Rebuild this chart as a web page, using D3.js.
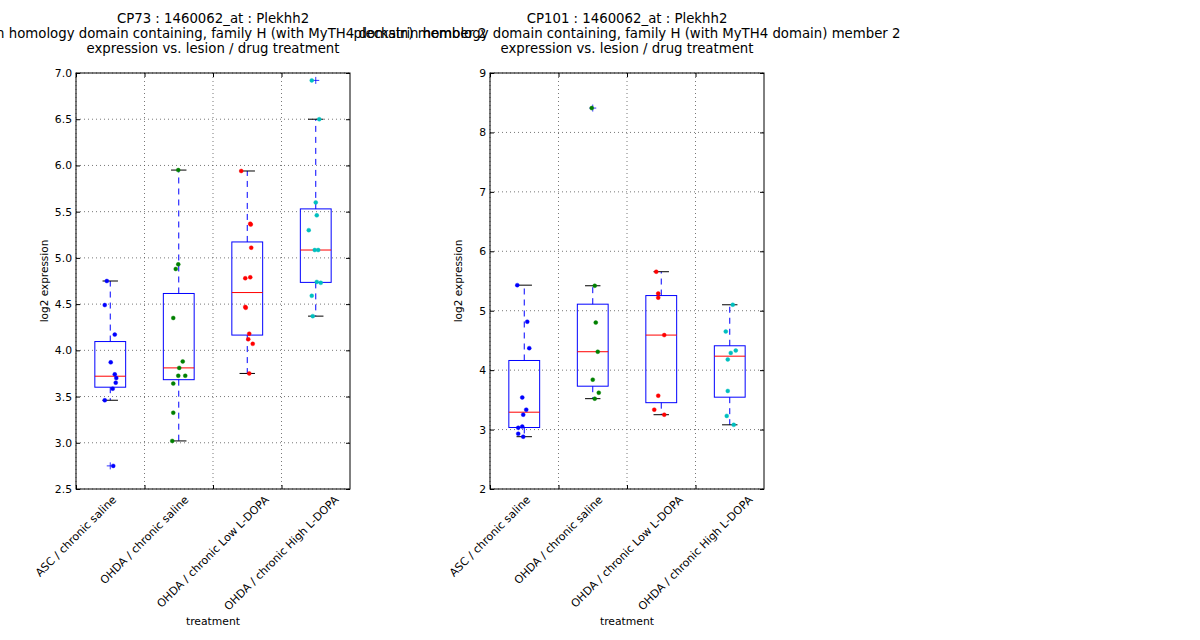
<!DOCTYPE html>
<html>
<head>
<meta charset="utf-8">
<script src="https://cdn.jsdelivr.net/npm/d3@7"></script>
<style>
  body { margin: 0; background: #fff; }
  svg { font-family: "DejaVu Sans", sans-serif; }
</style>
</head>
<body>
<div id="graph"></div>
<script>
const w = 1200;
const h = 640;

const categories = ["ASC / chronic saline", "OHDA / chronic saline", "OHDA / chronic Low L-DOPA", "OHDA / chronic High L-DOPA"];
const colors = ["#0000ff", "#008000", "#ff0000", "#00bfbf"];

// values, one list per group
const cp73Values = [
  [4.75, 4.49, 4.17, 3.87, 3.74, 3.7, 3.65, 3.585, 3.46, 2.75],
  [5.95, 4.93, 4.88, 4.35, 3.88, 3.81, 3.725, 3.725, 3.64, 3.325, 3.02],
  [5.94, 5.37, 5.36, 5.11, 4.79, 4.78, 4.47, 4.46, 4.18, 4.12, 4.07, 3.75],
  [6.92, 6.5, 5.6, 5.46, 5.3, 5.085, 5.085, 4.74, 4.73, 4.59, 4.37],
];
// horizontal jitter of each point, in category units
const cp73Jitter = [
  [-0.05, -0.08, 0.066, 0.007, 0.066, 0.088, 0.08, 0.036, -0.08, 0.044],
  [-0.007, -0.007, -0.044, -0.08, 0.058, 0.007, -0.007, 0.095, -0.08, -0.08, -0.095],
  [-0.088, 0.044, 0.051, 0.058, 0.044, -0.029, -0.029, -0.022, 0.029, 0.015, 0.08, 0.029],
  [-0.058, 0.051, 0, 0.015, -0.102, -0.015, 0.036, 0.015, 0.073, -0.058, -0.044],
];
const cp101Values = [
  [5.43, 4.815, 4.37, 3.54, 3.335, 3.25, 3.05, 3.03, 2.93, 2.88],
  [8.41, 5.42, 4.8, 4.31, 3.84, 3.62, 3.52],
  [5.656, 5.29, 5.22, 4.59, 3.57, 3.335, 3.25],
  [5.1, 4.65, 4.33, 4.29, 4.18, 3.65, 3.23, 3.08],
];
const cp101Jitter = [
  [-0.102, 0.044, 0.073, -0.029, 0.029, -0.015, -0.029, -0.088, -0.088, -0.015],
  [-0.015, 0.029, 0.044, 0.073, 0, 0.088, 0.029],
  [-0.073, -0.044, -0.044, 0.044, -0.044, -0.102, 0.044],
  [0.044, -0.058, 0.088, 0.015, -0.029, -0.029, -0.044, 0.058],
];
const cp73Ticks = [2.5, 3.0, 3.5, 4.0, 4.5, 5.0, 5.5, 6.0, 6.5, 7.0];
const cp101Ticks = [2, 3, 4, 5, 6, 7, 8, 9];
const geneName = "pleckstrin homology domain containing, family H (with MyTH4 domain) member 2";

const panels = [
  { id: "CP73", values: cp73Values, jitter: cp73Jitter, ticks: cp73Ticks, fmt: ".1f", left: 76 },
  { id: "CP101", values: cp101Values, jitter: cp101Jitter, ticks: cp101Ticks, fmt: "d", left: 490 },
];

const pw = 274;
const plotTop = 73;
const plotBottom = 489;
const boxW = 0.45;

const svg = d3.select("#graph").append("svg").attr("width", w).attr("height", h);
svg.append("rect").attr("width", w).attr("height", h).attr("fill", "#fff");

const stats = (vals) => {
  const s = vals.slice().sort(d3.ascending);
  const q1 = d3.quantile(s, 0.25);
  const med = d3.quantile(s, 0.5);
  const q3 = d3.quantile(s, 0.75);
  const iqr = q3 - q1;
  const inside = s.filter((v) => v >= q1 - 1.5 * iqr && v <= q3 + 1.5 * iqr);
  return {
    q1, med, q3,
    lo: d3.min(inside),
    hi: d3.max(inside),
    out: s.filter((v) => v < q1 - 1.5 * iqr || v > q3 + 1.5 * iqr),
  };
};

const drawPanel = (p) => {
  const x = d3.scaleLinear().domain([0.5, 4.5]).range([p.left, p.left + pw]);
  const y = d3.scaleLinear().domain(d3.extent(p.ticks)).range([plotBottom, plotTop]);
  const g = svg.append("g");
  const gridTicks = d3.range(categories.length).map((i) => i + 0.5);

  // grid
  g.append("g").selectAll("line").data(gridTicks).enter().append("line")
    .attr("x1", (d) => x(d)).attr("x2", (d) => x(d)).attr("y1", plotTop).attr("y2", plotBottom)
    .attr("stroke", "#555").attr("stroke-width", 0.8).attr("stroke-dasharray", "1,3");
  g.append("g").selectAll("line").data(p.ticks).enter().append("line")
    .attr("x1", p.left).attr("x2", p.left + pw).attr("y1", (d) => y(d)).attr("y2", (d) => y(d))
    .attr("stroke", "#555").attr("stroke-width", 0.8).attr("stroke-dasharray", "1,3");

  // axes with inward ticks
  g.append("g").attr("transform", `translate(${p.left},0)`)
    .call(d3.axisLeft(y).tickValues(p.ticks).tickFormat(d3.format(p.fmt)).tickSize(-4).tickPadding(4));
  g.append("g").attr("transform", `translate(${p.left + pw},0)`)
    .call(d3.axisRight(y).tickValues(p.ticks).tickFormat("").tickSize(-4));
  g.append("g").attr("transform", `translate(0,${plotBottom})`)
    .call(d3.axisBottom(x).tickValues(gridTicks).tickFormat("").tickSize(-4));
  g.append("g").attr("transform", `translate(0,${plotTop})`)
    .call(d3.axisTop(x).tickValues(gridTicks).tickFormat("").tickSize(-4));
  g.selectAll(".domain").remove();
  g.selectAll(".tick text").attr("font-size", 10.8).attr("font-family", "DejaVu Sans").attr("fill", "#000");
  g.selectAll(".tick line").attr("stroke", "#000");
  g.append("rect").attr("x", p.left).attr("y", plotTop).attr("width", pw).attr("height", plotBottom - plotTop)
    .attr("fill", "none").attr("stroke", "#000").attr("stroke-width", 1);

  // boxes
  p.values.forEach((vals, i) => {
    const c = i + 1;
    const s = stats(vals);
    const b = g.append("g");
    b.append("rect").attr("x", x(c - boxW / 2)).attr("y", y(s.q3))
      .attr("width", x(c + boxW / 2) - x(c - boxW / 2)).attr("height", y(s.q1) - y(s.q3))
      .attr("fill", "none").attr("stroke", "#0000ff").attr("stroke-width", 1);
    b.append("line").attr("x1", x(c - boxW / 2)).attr("x2", x(c + boxW / 2))
      .attr("y1", y(s.med)).attr("y2", y(s.med)).attr("stroke", "#ff0000").attr("stroke-width", 1);
    [[s.q3, s.hi], [s.q1, s.lo]].forEach(([a, e]) => {
      b.append("line").attr("x1", x(c)).attr("x2", x(c)).attr("y1", y(a)).attr("y2", y(e))
        .attr("stroke", "#0000ff").attr("stroke-width", 1).attr("stroke-dasharray", "6,5");
      b.append("line").attr("x1", x(c - boxW / 4)).attr("x2", x(c + boxW / 4))
        .attr("y1", y(e)).attr("y2", y(e)).attr("stroke", "#000").attr("stroke-width", 1);
    });
    s.out.forEach((v) => {
      b.append("path").attr("d", `M${x(c) - 3.5},${y(v)}h7M${x(c)},${y(v) - 3.5}v7`)
        .attr("stroke", "#0000ff").attr("stroke-width", 0.8);
    });
    g.append("g").selectAll("circle").data(vals).enter().append("circle")
      .attr("cx", (d, j) => x(c + p.jitter[i][j])).attr("cy", (d) => y(d)).attr("r", 2)
      .attr("fill", colors[i]).attr("stroke", colors[i]).attr("stroke-width", 0.4);
  });

  // x labels, rotated, centered on the ticks
  gridTicks.forEach((t, i) => {
    const lab = g.append("text").attr("font-size", 11).attr("text-anchor", "middle")
      .attr("dominant-baseline", "central").text(categories[i]);
    const len = lab.node().getComputedTextLength();
    const half = ((len + 11) * Math.SQRT1_2) / 2;
    lab.attr("transform", `translate(${x(t)},${plotBottom + 5 + half}) rotate(-45)`);
  });

  const cx = p.left + pw / 2;
  g.append("text").attr("x", cx).attr("y", 625).attr("text-anchor", "middle")
    .attr("font-size", 10.8).text("treatment");
  g.append("text").attr("transform", `translate(${p.left - 28},${(plotTop + plotBottom) / 2}) rotate(-90)`)
    .attr("text-anchor", "middle").attr("font-size", 10.5).text("log2 expression");

  const title = g.append("text").attr("text-anchor", "middle").attr("font-size", 13.3);
  [`${p.id} : 1460062_at : Plekhh2`, geneName, "expression vs. lesion / drug treatment"].forEach((t, k) => {
    title.append("tspan").attr("x", cx).attr("y", 23 + k * 14.8).text(t);
  });
};

panels.forEach(drawPanel);
</script>
</body>
</html>
